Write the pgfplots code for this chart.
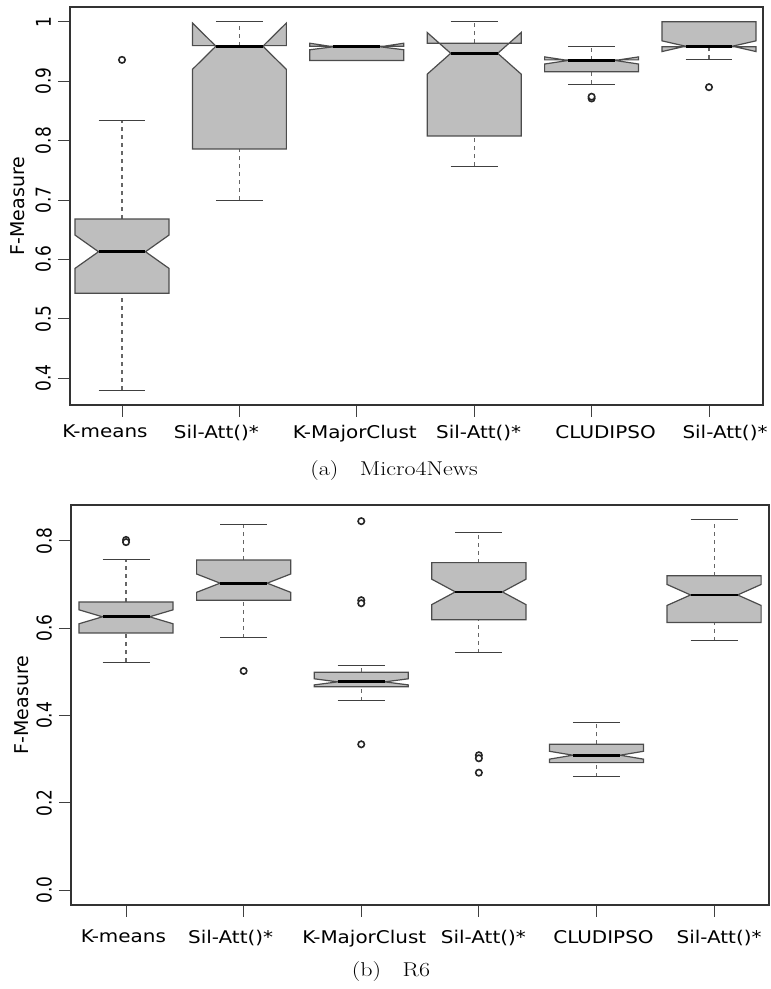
\documentclass[border=0pt]{standalone}
\usepackage{fontspec}
\usepackage{graphicx}
\usepackage{pgfplots}
\pgfplotsset{compat=1.18}

\newfontfamily\rfont{DejaVu Sans}
\definecolor{boxgray}{HTML}{BEBEBE}
\newcommand\sy[1]{\scalebox{1}[1.2]{#1}}
\newcommand\sx[1]{\scalebox{1.14}[1]{#1}}
% tick label centred #1 away from its tick
\newcommand\ol[2]{\hbox to 0pt{\hss\kern#1\kern#1\sx{#2}\hss}}

% notched box: x, lower whisker, q1, notch lo, median, notch hi, q3, upper whisker
\newcommand{\nbox}[8]{%
  \pgfmathsetmacro\xa{#1-0.4}\pgfmathsetmacro\xb{#1-0.2}%
  \pgfmathsetmacro\xc{#1+0.2}\pgfmathsetmacro\xd{#1+0.4}%
  \addplot[whisk] coordinates {(#1,#2) (#1,#3)};
  \addplot[whisk] coordinates {(#1,#7) (#1,#8)};
  \addplot[capst] coordinates {(\xb,#2) (\xc,#2)};
  \addplot[capst] coordinates {(\xb,#8) (\xc,#8)};
  \addplot[boxst] coordinates {(\xa,#3) (\xd,#3) (\xd,#4) (\xc,#5) (\xd,#6) (\xd,#7) (\xa,#7) (\xa,#6) (\xb,#5) (\xa,#4)} -- cycle;
  \addplot[medst] coordinates {(\xb,#5) (\xc,#5)};
}

\pgfplotsset{
  whisk/.style={draw=black!60, line width=1.1pt, dash pattern=on 4pt off 4pt},
  capst/.style={draw=black!75, line width=1.1pt},
  boxst/.style={fill=boxgray, draw=black!70, line width=1.2pt},
  medst/.style={draw=black, line width=2.8pt},
  outl/.style={only marks, mark=o, mark size=3.2pt, mark options={line width=1.6pt, draw=black!85, fill=white}},
  rbox/.style={
    scale only axis, anchor=south west,
    axis line style={black!80, line width=1.2pt},
    tick align=outside, major tick length=12pt,
    tick style={black!75, line width=1pt},
    xtick pos=bottom, ytick pos=left,
    xtick={1,...,6},
    xticklabel style={font=\rfont\fontsize{17.5}{17.5}\selectfont, anchor=north, inner sep=0pt},
    yticklabel style={font=\rfont\fontsize{17}{17}\selectfont, rotate=90, anchor=south, inner sep=0pt, yshift=7pt},
    ylabel={F-Measure},
    ylabel style={font=\rfont\fontsize{19}{19}\selectfont, at={(axis description cs:0,0.5)}, anchor=center},
    no markers,
  },
}

\begin{document}
\begin{tikzpicture}
\useasboundingbox (0,0) rectangle (771pt,989pt);

\begin{axis}[rbox,
  at={(70pt,584pt)}, width=693pt, height=398pt,
  xmin=0.557, xmax=6.46, ymin=0.355, ymax=1.025,
  xticklabels={\ol{-17pt}{K-means}, \ol{-23pt}{Sil-Att()*}, \ol{-2pt}{K-MajorClust},
    \ol{4.5pt}{Sil-Att()*}, \ol{14pt}{CLUDIPSO}, \ol{16pt}{Sil-Att()*}},
  ytick={0.4,0.5,0.6,0.7,0.8,0.9,1},
  yticklabels={\sy{0.4},\sy{0.5},\sy{0.6},\sy{0.7},\sy{0.8},\sy{0.9},\sy{1}},
  xticklabel style={yshift=-8pt},
  ylabel style={yshift=52pt},
]
\nbox{1}{0.380}{0.543}{0.585}{0.613}{0.641}{0.668}{0.834}
\nbox{2}{0.700}{0.786}{0.920}{0.959}{0.998}{0.960}{1.000}
\nbox{3}{0.935}{0.935}{0.953}{0.958}{0.964}{0.959}{0.959}
\nbox{4}{0.757}{0.808}{0.912}{0.947}{0.982}{0.964}{1.000}
\nbox{5}{0.895}{0.916}{0.929}{0.935}{0.941}{0.936}{0.958}
\nbox{6}{0.937}{0.958}{0.950}{0.959}{0.968}{1.000}{1.000}
\addplot[outl] coordinates {(1,0.936) (5,0.871) (5,0.874) (6,0.890)};
\end{axis}

\node[font=\fontsize{20}{20}\selectfont] at (394pt,518pt)
  {\scalebox{1.2}[1]{(a)\hspace{0.9em}Micro4News}};

\begin{axis}[rbox,
  at={(71pt,84pt)}, width=698pt, height=400pt,
  xmin=0.532, xmax=6.467, ymin=-0.034, ymax=0.882,
  xticklabels={\ol{-2.7pt}{K-means}, \ol{-13pt}{Sil-Att()*}, \ol{3pt}{K-MajorClust},
    \ol{4.5pt}{Sil-Att()*}, \ol{7pt}{CLUDIPSO}, \ol{5pt}{Sil-Att()*}},
  ytick={0,0.2,0.4,0.6,0.8},
  yticklabels={\sy{0.0},\sy{0.2},\sy{0.4},\sy{0.6},\sy{0.8}},
  xticklabel style={yshift=-13pt},
  ylabel style={yshift=49pt},
]
\nbox{1}{0.522}{0.589}{0.610}{0.626}{0.642}{0.660}{0.758}
\nbox{2}{0.578}{0.664}{0.682}{0.703}{0.724}{0.756}{0.838}
\nbox{3}{0.434}{0.466}{0.470}{0.477}{0.484}{0.499}{0.515}
\nbox{4}{0.544}{0.619}{0.654}{0.683}{0.712}{0.750}{0.819}
\nbox{5}{0.260}{0.292}{0.300}{0.309}{0.318}{0.334}{0.383}
\nbox{6}{0.571}{0.613}{0.652}{0.676}{0.700}{0.720}{0.848}
\addplot[outl] coordinates {(1,0.802) (1,0.797) (2,0.502) (3,0.845) (3,0.664) (3,0.657) (3,0.334) (4,0.309) (4,0.302) (4,0.269)};
\end{axis}

\node[font=\fontsize{20}{20}\selectfont] at (391pt,17pt)
  {\scalebox{1.2}[1]{(b)\hspace{0.9em}R6}};
\end{tikzpicture}
\end{document}
